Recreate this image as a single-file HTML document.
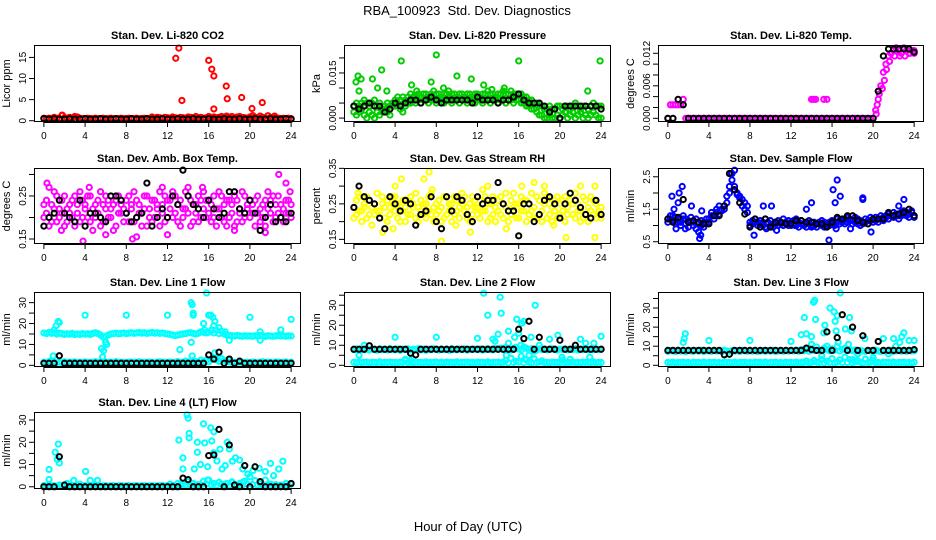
<!DOCTYPE html>
<html><head><meta charset="utf-8"><style>
html,body{margin:0;padding:0;background:#fff;}
svg{display:block;font-family:"Liberation Sans",Arial,sans-serif;}
</style></head><body>
<svg id="chart" width="936" height="540" viewBox="0 0 936 540" xmlns="http://www.w3.org/2000/svg">
<rect width="936" height="540" fill="#fff"/>
<text x="467" y="15" font-size="13" text-anchor="middle" xml:space="preserve">RBA_100923  Std. Dev. Diagnostics</text>
<text x="468" y="531" font-size="13" text-anchor="middle">Hour of Day (UTC)</text>
</svg>
<script>
const co2Main=[0.6,0.5,0.6,0.5,0.8,0.6,0.5,1.3,0.7,0.6,0.8,0.6,1.0,0.9,0.6,0.5,0.5,0.6,0.5,0.5,0.6,0.5,0.5,0.6,0.5,0.5,0.6,0.5,0.5,0.5,0.6,0.5,0.5,0.6,0.5,0.5,0.6,0.5,0.5,0.6,0.5,0.5,0.9,0.6,0.8,0.7,0.6,0.8,0.7,0.6,0.9,0.7,0.6,0.8,0.7,0.6,0.9,0.8,0.7,1.0,0.7,0.8,0.6,0.7,1.0,0.8,0.9,0.7,0.8,1.0,0.9,1.1,0.8,1.0,0.7,0.9,1.0,0.8,0.7,0.6,0.9,1.2,0.8,0.7,1.1,0.8,0.6,1.2,0.8,0.7,0.6,0.6,0.5,0.6,0.5,0.6,0.5];
const co2Out=[[13.1,17.2],[12.8,14.8],[13.4,4.8],[16.0,14.3],[16.3,12.2],[16.5,10.6],[16.5,2.8],[17.7,8.2],[17.8,5.2],[19.2,5.5],[20.2,2.9],[21.2,4.3],[1.8,1.3],[20.3,1.2],[22.4,1.1]];
const co2Blk=[0.5,0.4,0.5,0.4,0.4,0.5,0.4,0.4,0.5,0.4,0.4,0.5,0.4,0.4,0.5,0.4,0.4,0.5,0.4,0.4,0.5,0.4,0.4,0.5,0.4,0.4,0.5,0.4,0.4,0.5,0.4,0.4,0.5,0.4,0.4,0.5,0.4,0.4,0.5,0.4,0.4,0.5,0.4,0.4,0.5,0.4,0.4,0.5,0.4];

const presUp=[0.004,0.005,0.004,0.005,0.006,0.005,0.004,0.005,0.006,0.004,0.005,0.003,0.004,0.005,0.004,0.005,0.006,0.007,0.006,0.007,0.006,0.007,0.008,0.007,0.007,0.008,0.007,0.008,0.008,0.007,0.008,0.009,0.008,0.008,0.007,0.008,0.008,0.007,0.008,0.008,0.007,0.008,0.008,0.007,0.008,0.008,0.007,0.008,0.008,0.007,0.008,0.008,0.009,0.008,0.008,0.007,0.008,0.008,0.009,0.008,0.008,0.009,0.008,0.008,0.008,0.008,0.007,0.007,0.006,0.006,0.005,0.005,0.004,0.004,0.003,0.003,0.004,0.003,0.003,0.004,0.004,0.003,0.004,0.004,0.003,0.004,0.005,0.004,0.003,0.004,0.004,0.003,0.004,0.005,0.004,0.004,0.004];
const presLo=[0.002,0.001,0.002,0.003,0.001,0.000,0.002,0.001,0.000,0.002,0.001,0.002,0.003,0.002,0.001,0.004,0.004,0.005,0.003,0.002,0.004,0.005,0.005,0.006,0.005,0.006,0.005,0.006,0.006,0.005,0.006,0.006,0.005,0.006,0.006,0.005,0.006,0.006,0.005,0.006,0.006,0.005,0.006,0.006,0.005,0.006,0.006,0.005,0.006,0.006,0.005,0.006,0.006,0.005,0.006,0.006,0.005,0.006,0.006,0.005,0.006,0.006,0.005,0.006,0.006,0.005,0.005,0.004,0.004,0.003,0.003,0.002,0.001,0.001,0.000,0.000,0.001,0.000,0.000,0.001,0.000,0.001,0.002,0.000,0.001,0.002,0.000,0.001,0.002,0.000,0.001,0.000,0.001,0.002,0.001,0.000,0.000];
const presOut=[[0.2,0.012],[0.4,0.014],[0.7,0.013],[0.5,0.009],[1.8,0.013],[2.7,0.016],[2.3,0.010],[3.2,0.009],[4.6,0.019],[5.6,0.011],[6.1,0.009],[7.5,0.012],[8.0,0.021],[8.7,0.010],[9.2,0.009],[10.0,0.014],[11.4,0.013],[12.6,0.011],[13.4,0.0095],[14.6,0.010],[16.0,0.019],[23.9,0.019],[22.7,0.009]];
const presBlk=[0.004,0.003,0.004,0.005,0.004,0.004,0.002,0.003,0.005,0.004,0.005,0.006,0.006,0.005,0.006,0.007,0.006,0.005,0.006,0.006,0.006,0.006,0.006,0.005,0.007,0.006,0.006,0.006,0.005,0.006,0.006,0.007,0.008,0.006,0.005,0.005,0.005,0.004,0.002,0.003,0.000,0.004,0.004,0.004,0.004,0.004,0.004,0.004,0.003];

const tempMain=[0,0.0025,0.0025,0.0025,0.0025,0.0025,0.0035,0,0,0,0,0,0,0,0,0,0,0,0,0,0,0,0,0,0,0,0,0,0,0,0,0,0,0,0,0,0,0,0,0,0,0,0,0,0,0,0,0,0,0,0,0,0,0,0,0,0,0,0,0,0,0,0,0,0,0,0,0,0,0,0,0,0,0,0,0,0,0,0,0,0,0.0015,0.0035,0.006,0.0085,0.010,0.0115,0.012,0.0125,0.013,0.0125,0.012,0.013,0.0125,0.012,0.0125,0.0125];
const tempOut=[[14.0,0.0035],[14.2,0.0035],[14.4,0.0035],[15.2,0.0035],[15.5,0.0035],[20.3,0.0008],[20.4,0.0025],[20.6,0.0045],[20.9,0.0055],[21.1,0.0070],[21.3,0.0090],[21.6,0.0105],[22.1,0.0115],[22.6,0.0115],[23.1,0.0115],[23.6,0.0120],[24.0,0.0120]];
const tempBlk=[0,0,0.0035,0.0025,0,0,0,0,0,0,0,0,0,0,0,0,0,0,0,0,0,0,0,0,0,0,0,0,0,0,0,0,0,0,0,0,0,0,0,0,0,0.0050,0.0115,0.0128,0.0128,0.0128,0.0128,0.0128,0.0122];

const ambA=[0.23,0.21,0.27,0.19,0.22,0.25,0.20,0.24,0.18,0.22,0.23,0.20,0.25,0.21,0.19,0.24,0.22,0.20,0.25,0.17,0.23,0.21,0.26,0.19,0.22,0.24,0.20,0.23,0.18,0.25,0.21,0.22,0.24,0.19,0.22,0.26,0.20,0.23,0.21,0.25,0.18,0.22,0.24,0.20,0.23,0.26,0.21,0.19,0.24,0.22,0.20,0.25,0.23,0.18,0.22,0.26,0.21,0.24,0.19,0.23,0.25,0.20,0.22,0.24,0.21,0.19,0.25,0.22,0.26,0.20,0.23,0.18,0.24,0.21,0.25,0.19,0.22,0.26,0.20,0.23,0.24,0.21,0.18,0.25,0.22,0.20,0.24,0.26,0.21,0.19,0.23,0.25,0.20,0.22,0.24,0.21,0.23];
const ambB=[0.20,0.24,0.18,0.23,0.26,0.19,0.22,0.21,0.25,0.19,0.21,0.24,0.18,0.23,0.26,0.20,0.23,0.25,0.19,0.22,0.20,0.24,0.18,0.23,0.25,0.20,0.22,0.17,0.24,0.21,0.23,0.19,0.21,0.25,0.23,0.19,0.24,0.21,0.18,0.22,0.25,0.20,0.19,0.24,0.22,0.18,0.23,0.25,0.20,0.24,0.26,0.21,0.19,0.24,0.20,0.22,0.25,0.18,0.23,0.21,0.19,0.24,0.26,0.20,0.24,0.23,0.20,0.18,0.22,0.25,0.19,0.24,0.20,0.23,0.18,0.24,0.21,0.19,0.25,0.22,0.20,0.23,0.24,0.21,0.19,0.23,0.18,0.22,0.24,0.25,0.20,0.21,0.23,0.19,0.21,0.24,0.20];
const ambOut=[[0.3,0.28],[1.7,0.17],[3.8,0.145],[4.4,0.27],[6.0,0.16],[9.0,0.155],[11.5,0.27],[12.0,0.16],[14.0,0.27],[15.4,0.27],[18.5,0.17],[21.5,0.165],[22.8,0.30],[23.5,0.28],[23.9,0.26],[8.6,0.15]];
const ambBlk=[0.18,0.20,0.21,0.24,0.21,0.20,0.19,0.24,0.18,0.21,0.21,0.20,0.19,0.25,0.25,0.24,0.21,0.19,0.20,0.21,0.28,0.18,0.20,0.22,0.20,0.25,0.23,0.31,0.25,0.23,0.22,0.20,0.24,0.22,0.20,0.21,0.26,0.26,0.22,0.21,0.24,0.21,0.17,0.20,0.23,0.19,0.20,0.19,0.21];

const rhA=[0.24,0.22,0.27,0.23,0.25,0.21,0.26,0.24,0.22,0.28,0.23,0.25,0.21,0.26,0.24,0.27,0.23,0.25,0.20,0.26,0.24,0.22,0.27,0.25,0.21,0.24,0.26,0.22,0.25,0.23,0.28,0.24,0.22,0.26,0.24,0.21,0.27,0.23,0.25,0.22,0.26,0.24,0.28,0.23,0.21,0.25,0.27,0.24,0.22,0.26,0.29,0.23,0.25,0.21,0.27,0.24,0.26,0.22,0.25,0.28,0.23,0.26,0.24,0.21,0.25,0.27,0.23,0.26,0.22,0.28,0.24,0.21,0.26,0.23,0.25,0.27,0.22,0.24,0.26,0.21,0.25,0.23,0.27,0.24,0.26,0.22,0.28,0.25,0.23,0.21,0.26,0.24,0.27,0.22,0.25,0.23,0.24];
const rhB=[0.21,0.26,0.23,0.20,0.24,0.27,0.22,0.19,0.25,0.23,0.21,0.27,0.24,0.20,0.22,0.25,0.27,0.21,0.24,0.23,0.20,0.26,0.22,0.24,0.28,0.20,0.23,0.25,0.21,0.27,0.22,0.20,0.25,0.23,0.20,0.27,0.22,0.25,0.20,0.27,0.23,0.21,0.25,0.27,0.24,0.20,0.22,0.26,0.24,0.21,0.23,0.27,0.20,0.25,0.22,0.20,0.23,0.27,0.21,0.24,0.20,0.22,0.28,0.25,0.21,0.23,0.26,0.20,0.25,0.23,0.21,0.27,0.22,0.20,0.28,0.21,0.25,0.20,0.23,0.27,0.22,0.26,0.20,0.22,0.28,0.25,0.21,0.23,0.20,0.27,0.22,0.20,0.23,0.26,0.21,0.22,0.21];
const rhOut=[[0.4,0.28],[2.8,0.17],[3.8,0.18],[4.6,0.32],[6.8,0.32],[7.3,0.34],[7.6,0.29],[8.5,0.145],[11.3,0.17],[13.0,0.30],[14.8,0.18],[16.3,0.30],[17.5,0.31],[18.5,0.30],[19.4,0.19],[20.6,0.155],[22.0,0.30],[23.4,0.30],[23.4,0.155],[9.9,0.19],[4.0,0.30]];
const rhBlk=[0.24,0.30,0.27,0.26,0.25,0.21,0.18,0.27,0.25,0.23,0.26,0.25,0.19,0.22,0.23,0.27,0.20,0.18,0.27,0.23,0.27,0.26,0.22,0.20,0.27,0.25,0.26,0.26,0.31,0.25,0.23,0.23,0.16,0.25,0.25,0.20,0.22,0.26,0.27,0.25,0.21,0.25,0.28,0.26,0.24,0.22,0.21,0.26,0.22];

const flowA=[1.2,1.3,1.15,1.25,1.2,1.1,1.3,1.2,1.15,1.25,1.1,1.2,1.05,1.15,1.1,1.2,1.2,1.4,1.3,1.5,1.6,1.5,1.6,1.9,2.2,2.4,2.1,2.0,1.9,1.8,1.7,1.6,1.1,1.15,1.2,1.1,1.15,1.1,1.2,1.1,1.15,1.05,1.1,1.15,1.1,1.2,1.1,1.15,1.1,1.15,1.2,1.1,1.15,1.05,1.1,1.15,1.0,1.1,1.05,1.1,1.15,1.1,1.0,1.1,1.15,1.1,1.2,1.15,1.1,1.2,1.25,1.2,1.15,1.25,1.2,1.15,1.1,1.2,1.15,1.25,1.2,1.25,1.2,1.3,1.25,1.3,1.35,1.3,1.4,1.35,1.3,1.4,1.45,1.4,1.35,1.45,1.3];
const flowB=[1.1,1.2,1.3,1.05,1.1,1.0,1.2,1.05,0.95,1.1,1.0,0.9,1.05,1.0,0.95,1.05,1.1,1.3,1.2,1.4,1.35,1.45,1.5,1.7,2.0,2.6,2.2,1.95,1.85,1.6,1.5,1.4,1.0,1.05,1.1,1.0,1.05,1.0,0.95,1.05,1.0,0.95,1.05,1.0,1.05,1.0,1.1,1.0,1.0,1.05,1.0,0.95,1.05,1.0,0.95,1.05,0.95,1.0,0.95,1.05,1.0,0.95,1.05,1.0,1.05,1.0,1.1,1.05,1.15,1.05,1.1,1.15,1.05,1.1,1.05,1.0,1.05,1.1,1.05,1.15,1.1,1.15,1.1,1.2,1.15,1.25,1.2,1.3,1.25,1.35,1.2,1.3,1.35,1.3,1.25,1.4,1.25];
const flowOut=[[0.4,1.9],[1.1,2.0],[1.4,2.2],[0.6,1.5],[1.0,1.7],[2.3,1.6],[3.2,0.7],[3.1,0.6],[3.0,0.8],[3.3,1.45],[0.8,0.9],[1.7,0.9],[6.2,2.6],[6.5,2.7],[8.4,0.7],[9.3,1.6],[10.1,1.6],[9.6,0.9],[10.6,0.85],[14.0,1.7],[13.5,1.5],[15.7,0.55],[16.1,2.1],[16.3,1.7],[16.5,2.4],[16.8,1.9],[19.0,1.85],[19.0,1.8],[16.4,0.9],[19.8,0.8],[23.0,1.8],[22.5,1.6],[12.4,1.0],[17.8,0.9]];
const flowBlk=[1.2,1.1,1.25,1.8,1.1,1.15,1.1,1.05,1.05,1.3,1.3,1.6,2.6,2.1,1.7,1.35,0.95,1.2,0.95,1.2,0.95,1.1,1.1,1.05,1.05,1.15,1.15,1.1,1.1,1.05,1.05,0.95,1.1,1.25,1.2,1.3,1.3,1.15,1.1,1.05,1.2,1.2,1.2,1.4,1.3,1.35,1.4,1.5,1.3];

const l1Up=[15.5,15.2,15.8,15.3,15.6,15.0,15.4,15.2,14.8,15.1,14.9,15.3,14.7,15.0,14.8,15.2,14.9,15.1,14.8,15.3,15.6,15.2,14.5,13.5,13.8,14.5,15.0,15.2,15.4,15.1,15.3,15.5,15.2,15.4,15.6,15.3,15.5,15.7,15.4,15.6,15.3,15.5,15.8,15.4,15.6,15.3,15.5,15.2,15.0,14.8,14.5,14.2,14.5,14.8,15.0,15.2,15.5,15.6,15.3,15.0,15.4,16.0,15.8,15.5,15.8,16.5,15.5,16.8,15.2,16.2,15.0,14.5,14.3,14.2,14.0,14.3,14.1,13.9,14.2,14.0,14.1,13.9,14.2,14.0,14.3,14.1,13.8,14.2,14.0,13.9,14.1,14.3,14.0,14.2,13.9,14.1,14.0];
const l1Lo=[1.5,1.2,1.8,1.4,1.6,1.2,1.5,1.3,1.7,1.2,1.5,1.4,1.6,1.2,1.5,1.3,1.6,1.4,1.2,1.5,1.7,1.3,1.5,1.2,1.6,1.4,1.5,1.2,1.7,1.3,1.5,1.4,1.2,1.6,1.5,1.3,1.4,1.7,1.2,1.5,1.3,1.6,1.4,1.2,1.5,1.7,1.3,1.5,1.4,1.6,1.2,1.5,1.8,1.3,1.5,2.0,1.6,1.4,2.2,1.8,1.5,2.5,1.9,2.4,1.7,2.8,3.5,2.6,1.9,3.2,2.4,1.8,1.6,1.4,1.5,1.3,1.6,1.4,1.2,1.5,1.3,1.6,1.4,1.2,1.5,1.7,1.3,1.5,1.4,1.2,1.6,1.5,1.3,1.4,1.6,1.2,1.5];
const l1Out=[[0.6,2],[0.9,4.5],[1.0,17],[1.2,19],[1.5,20.5],[1.4,21],[4.0,24],[5.7,4],[5.6,8],[5.8,7],[6.0,11],[6.1,10],[8.0,24],[12.0,24],[13.2,7.5],[14.3,30],[14.4,29],[14.5,25],[14.5,24],[14.3,11],[14.4,4.5],[15.5,20],[15.6,17],[15.8,35],[16.0,24],[16.2,24],[16.4,23],[16.5,19],[16.6,21],[16.3,17],[16.6,6],[17.0,18],[17.6,16],[18.0,12],[20.0,23],[21.0,12],[21.0,16],[23.0,17],[24.0,22],[16.8,3.5],[18.0,3]];
const l1Blk=[1.0,1.0,1.0,4.6,1.0,1.0,1.0,1.0,1.0,1.0,1.0,1.0,1.0,1.0,1.0,1.0,1.0,1.0,1.0,1.0,1.0,1.0,1.0,1.0,1.0,1.0,1.0,1.0,1.0,1.0,1.0,1.0,5.0,3.0,6.3,1.0,3.0,1.0,2.0,1.0,1.0,1.0,1.0,1.0,1.0,1.0,1.0,1.0,1.0];

const l2Up=[7.8,8.2,7.5,8.0,7.7,8.3,7.6,8.1,7.9,7.5,8.2,7.8,8.0,7.6,8.3,7.9,7.7,8.1,7.5,8.0,7.8,8.2,7.6,8.0,7.9,8.3,7.7,8.1,7.5,8.0,7.8,8.2,7.9,7.6,8.1,7.8,8.0,7.5,8.3,7.9,7.7,8.1,7.8,8.2,7.6,8.0,7.9,8.1,7.8,8.2,7.6,8.0,8.3,7.9,7.7,8.4,8.0,8.6,7.8,8.9,8.2,7.6,8.4,9.0,8.1,7.7,9.2,8.5,7.8,8.3,8.0,7.6,8.2,7.9,8.1,7.7,8.0,8.3,7.8,7.6,8.1,7.9,8.2,7.7,8.0,7.8,8.3,7.6,8.0,7.9,8.2,7.7,8.1,7.8,8.0,7.9,8.1];
const l2Lo=[1.5,1.2,1.7,1.3,1.5,1.6,1.2,1.4,1.5,1.3,1.7,1.2,1.5,1.4,1.6,1.3,1.5,1.2,1.6,1.4,2.5,1.3,1.5,1.2,1.6,1.4,1.5,1.3,1.7,1.2,1.5,1.4,1.6,1.3,1.5,1.2,1.6,1.4,1.5,1.3,1.7,1.2,1.5,1.4,1.6,1.3,1.5,1.2,1.6,1.4,1.5,1.3,1.7,1.2,1.5,1.4,1.6,1.3,1.5,2.5,1.2,3.5,1.4,2.0,1.6,4.5,1.3,2.8,1.5,1.2,3.2,1.4,1.6,2.2,1.3,1.5,1.2,1.6,1.4,1.5,1.3,2.6,1.2,1.5,1.4,1.6,1.3,1.5,1.2,1.6,1.4,1.5,1.3,1.7,1.2,1.5,1.4];
const l2Out=[[0.5,5],[1.0,10],[4.0,14],[5.0,3],[5.5,2.5],[8.0,14],[12.0,13.5],[12.6,36],[13.0,25],[13.5,13],[14.0,15.5],[14.2,34],[14.3,26],[13.7,12],[15.0,17],[15.0,11],[14.8,5],[15.6,14],[15.8,23],[16.0,16],[16.3,21],[16.5,22],[16.2,10],[16.6,3],[17.2,14],[17.6,30],[17.0,5],[18.0,10],[18.6,8],[19.8,15],[20.2,4],[21.0,3],[22.0,13],[22.5,11],[22.9,4],[23.3,11],[24.0,14.5],[19.0,13],[15.5,8],[17.5,7]];
const l2Blk=[8,8,8,9.8,8,8,8,8,8,8,8,6.0,5.2,8,8,8,8,8,8,8,8,8,8,8,8,8,8,8,8,8,8,8,18,13.3,22,8,14,8,8,8,12.5,8,8,10,8,8,8,8,8];

const l3Up=[7.3,7.8,7.5,7.2,7.9,7.4,7.6,7.1,7.8,7.5,7.3,7.7,7.4,7.9,7.2,7.6,7.5,7.3,7.8,7.4,7.6,7.2,7.9,7.5,7.3,7.7,7.4,7.6,7.2,7.8,7.5,7.3,7.6,7.4,7.8,7.2,7.5,7.7,7.3,7.6,7.4,7.8,7.2,7.5,7.7,7.3,7.6,7.4,7.8,7.5,7.9,7.3,8.2,7.6,8.5,7.4,8.8,7.7,9.5,8.0,7.5,9.0,8.3,7.6,8.6,7.9,9.8,7.5,8.4,9.0,7.7,8.2,7.6,8.0,7.4,7.8,7.5,7.3,7.7,7.6,7.4,7.9,7.5,7.2,7.7,7.4,7.6,7.8,7.3,7.5,7.7,7.4,7.6,7.3,7.8,7.5,7.6];
const l3Lo=[1.5,1.3,1.7,1.2,1.5,1.4,1.6,1.3,1.5,1.2,1.6,1.4,1.5,1.3,1.7,1.2,1.5,1.4,1.6,1.3,1.5,1.2,1.6,1.4,1.5,1.3,1.7,1.2,1.5,1.4,1.6,1.3,1.5,1.2,1.6,1.4,1.5,1.3,1.7,1.2,1.5,1.4,1.6,1.3,1.5,1.2,1.6,1.4,1.5,1.3,1.7,1.2,1.5,1.4,2.2,1.3,1.5,2.5,1.6,1.4,3.0,1.3,2.2,1.5,3.5,1.2,1.6,2.8,1.4,4.2,1.5,3.0,1.3,1.7,2.4,1.5,1.2,3.2,1.4,1.6,2.6,1.3,1.5,1.2,1.6,1.4,1.5,1.3,1.7,1.2,1.5,1.4,1.6,1.3,1.5,1.2,1.6];
const l3Out=[[1.5,12],[1.6,14],[1.7,16.5],[4.0,13],[8.0,13],[12.0,12.5],[13.0,16],[13.3,25],[13.5,16.5],[14.0,15],[14.2,33],[14.3,34],[14.4,24],[14.0,11],[15.2,17],[15.3,21],[15.5,10],[15.8,30],[16.2,28],[16.3,23],[16.5,26],[16.8,38],[16.4,18],[16.6,12],[17.3,19],[17.7,25],[17.9,18],[17.6,11],[18.5,6],[19.2,14],[20.0,4],[21.0,14],[21.5,6],[22.0,14],[22.2,10],[22.6,12],[22.8,15],[23.0,17],[23.5,13],[24.0,13],[18.0,3],[15.0,5]];
const l3Blk=[7.8,7.8,7.8,7.8,7.8,7.8,7.8,7.8,7.8,7.8,7.8,5.5,5.8,7.8,7.8,7.8,7.8,7.8,7.8,7.8,7.8,7.8,7.8,7.8,7.8,7.8,7.8,9.0,8.2,7.8,7.8,17.5,7.8,14.5,26.5,7.8,20,7.8,15.5,7.8,7.8,12.5,7.8,7.8,7.8,7.8,7.8,7.8,8.2];

const l4Main=[0.5,0.3,0.6,0.4,0.5,0.3,0.8,0.4,0.5,1.5,0.6,0.4,0.5,0.3,1.2,0.4,0.5,0.3,0.6,0.4,1.0,0.5,0.3,0.4,0.5,0.3,0.4,0.5,0.3,0.4,0.5,0.3,0.4,0.5,0.3,0.4,0.5,0.3,0.4,0.5,0.3,0.4,0.5,0.3,0.4,0.5,0.6,0.4,0.5,1.2,0.6,0.4,1.5,0.8,1.2,0.6,2.2,0.8,1.5,0.6,1.0,0.8,2.5,1.2,3.0,0.8,1.5,0.6,2.0,1.2,0.8,1.5,0.6,2.2,1.0,0.8,1.5,0.6,2.5,1.2,4.5,1.0,2.8,0.8,1.5,0.6,3.0,0.8,1.2,0.6,1.0,0.5,0.8,0.6,1.5,0.5,1.2];
const l4Out=[[0.5,3.3],[0.5,7.8],[1.1,15.5],[1.4,19.2],[1.3,12.3],[1.5,10.7],[4.05,6.9],[2.9,2.9],[4.5,2.9],[5.2,2.9],[13.9,32.3],[14.0,30.8],[14.1,24],[14.1,22],[13.1,21],[13.5,13],[13.5,8],[15.5,28.3],[14.9,20],[14.9,15.5],[15.6,19.7],[16.2,26.5],[16.5,24.7],[16.3,20.6],[16.5,15.3],[16.8,11.6],[17.1,16.9],[17.3,8],[17.8,20],[18.0,17],[18.3,11.5],[18.6,13],[19.0,12],[19.3,8],[19.8,5.7],[20.3,7.3],[20.9,8.3],[21.5,6.8],[22.0,10.5],[22.3,5],[22.8,8],[23.2,11.5],[14.6,8],[15.2,10],[15.9,9],[15.9,3],[17.6,9.5],[18.3,2],[19.3,2]];
const l4Blk=[0,0,0,13.5,0.8,0,0,0,0,0,0,0,0,0,0,0,0,0,0,0,0,0,0,0,0,0,0,3.9,3.2,0,0,0,14,14.3,25.8,0,18.8,0.8,0,9.5,0,9,2.3,0,0,0,0,0,1.5];

const xTicks=[0,4,8,12,16,20,24];

const panels=[
 {name:'co2',title:'Stan. Dev. Li-820 CO2',ylab:'Licor ppm',col:'#ff0000',box:[34,301,45,122],ylim:[-0.3,17.94],ticks:[0,5,10,15],labels:['0','5','10','15'],main:[co2Main],out:co2Out,blk:co2Blk},
 {name:'pressure',title:'Stan. Dev. Li-820 Pressure',ylab:'kPa',col:'#00cc00',box:[344,611,45,122],ylim:[-0.0013,0.0243],ticks:[0,0.005,0.01,0.015,0.02],labels:['0.000','','','0.015',''],main:[presUp,presLo],out:presOut,blk:presBlk},
 {name:'li820-temp',title:'Stan. Dev. Li-820 Temp.',ylab:'degrees C',col:'#ff00ff',box:[658,924,45,122],ylim:[-0.00068,0.01353],ticks:[0,0.002,0.004,0.006,0.008,0.01,0.012],labels:['0.000','','','0.006','','','0.012'],main:[tempMain],out:tempOut,blk:tempBlk},
 {name:'amb-box-temp',title:'Stan. Dev. Amb. Box Temp.',ylab:'degrees C',col:'#ff00ff',box:[34,301,168,244],ylim:[0.1384,0.315],ticks:[0.15,0.2,0.25,0.3],labels:['0.15','','0.25',''],main:[ambA,ambB],out:ambOut,blk:ambBlk},
 {name:'gas-stream-rh',title:'Stan. Dev. Gas Stream RH',ylab:'percent',col:'#ffff00',box:[344,611,168,244],ylim:[0.137,0.351],ticks:[0.15,0.2,0.25,0.3,0.35],labels:['0.15','','0.25','','0.35'],main:[rhA,rhB],out:rhOut,blk:rhBlk},
 {name:'sample-flow',title:'Stan. Dev. Sample Flow',ylab:'ml/min',col:'#0000ff',box:[658,924,168,244],ylim:[0.43,2.77],ticks:[0.5,1,1.5,2,2.5],labels:['0.5','','1.5','','2.5'],main:[flowA,flowB],out:flowOut,blk:flowBlk},
 {name:'line1-flow',title:'Stan. Dev. Line 1 Flow',ylab:'ml/min',col:'#00ffff',box:[34,301,292,367],ylim:[-0.8,35.1],ticks:[0,5,10,15,20,25,30],labels:['0','','10','','20','','30'],main:[l1Up,l1Lo],out:l1Out,blk:l1Blk},
 {name:'line2-flow',title:'Stan. Dev. Line 2 Flow',ylab:'ml/min',col:'#00ffff',box:[344,611,292,367],ylim:[-0.85,36.6],ticks:[0,5,10,15,20,25,30,35],labels:['0','','10','','20','','30',''],main:[l2Up,l2Lo],out:l2Out,blk:l2Blk},
 {name:'line3-flow',title:'Stan. Dev. Line 3 Flow',ylab:'ml/min',col:'#00ffff',box:[658,924,292,367],ylim:[-0.9,38.4],ticks:[0,5,10,15,20,25,30,35],labels:['0','','10','','20','','30',''],main:[l3Up,l3Lo],out:l3Out,blk:l3Blk},
 {name:'line4-flow',title:'Stan. Dev. Line 4 (LT) Flow',ylab:'ml/min',col:'#00ffff',box:[34,301,412,489],ylim:[-1.0,33.6],ticks:[0,5,10,15,20,25,30],labels:['0','','10','','20','','30'],main:[l4Main],out:l4Out,blk:l4Blk}
];

const NS='http://www.w3.org/2000/svg';
const svg=document.getElementById('chart');
function mk(tag,attrs,parent){const e=document.createElementNS(NS,tag);for(const k in attrs)e.setAttribute(k,attrs[k]);parent.appendChild(e);return e;}

panels.forEach(p=>{
  const [L,R,T,B]=p.box;
  const xMin=-0.96,xMax=24.96;
  const xs=h=>L+(h-xMin)/(xMax-xMin)*(R-L);
  const ys=v=>B-(v-p.ylim[0])/(p.ylim[1]-p.ylim[0])*(B-T);
  const g=mk('g',{},svg);
  
  
  const t=mk('text',{x:(L+R)/2,y:T-6,'font-size':11,'font-weight':'bold','text-anchor':'middle'},g);
  
  
  t.textContent=p.title;
  const yl=mk('text',{x:0,y:0,'font-size':11,'text-anchor':'middle',transform:`translate(${L-24},${(T+B)/2}) rotate(-90)`},g);
  
  
  yl.textContent=p.ylab;
  const pts=mk('g',{fill:'none','stroke-width':2},g);
  
  
  const clip=v=>Math.max(T+1,Math.min(B-1,v));
  p.main.forEach(arr=>{arr.forEach((v,i)=>{
    const c=mk('circle',{cx:xs(i*0.25),cy:clip(ys(v)),r:2.6,stroke:p.col},pts);
    
    
  });});
  p.out.forEach(d=>{
    const c=mk('circle',{cx:xs(d[0]),cy:clip(ys(d[1])),r:2.6,stroke:p.col},pts);
    
    
  });
  p.blk.forEach((v,i)=>{
    const c=mk('circle',{cx:xs(i*0.5),cy:clip(ys(v)),r:2.6,stroke:'#000'},pts);
    
    
  });
  const box=mk('rect',{x:L+0.5,y:T+0.5,width:R-L-1,height:B-T-1,fill:'none',stroke:'#000','stroke-width':1},g);
  
  
  const xa=mk('g',{stroke:'#000','stroke-width':1},g);
  
  
  mk('line',{x1:xs(xTicks[0]),x2:xs(xTicks[xTicks.length-1]),y1:B+0.5,y2:B+0.5},xa);
  xTicks.forEach(h=>{
    mk('line',{x1:xs(h),x2:xs(h),y1:B,y2:B+5},xa);
    const tl=mk('text',{x:xs(h),y:B+17,'font-size':10,'text-anchor':'middle',stroke:'none',fill:'#000'},xa);
    
    
    tl.textContent=h;
  });
  const ya=mk('g',{stroke:'#000','stroke-width':1},g);
  
  
  mk('line',{x1:L+0.5,x2:L+0.5,y1:ys(p.ticks[0]),y2:ys(p.ticks[p.ticks.length-1])},ya);
  p.ticks.forEach((v,i)=>{
    mk('line',{x1:L-5,x2:L,y1:ys(v),y2:ys(v)},ya);
    if(p.labels[i]){
      const tl=mk('text',{x:0,y:0,'font-size':10,'text-anchor':'middle',stroke:'none',fill:'#000',transform:`translate(${L-8},${ys(v)}) rotate(-90)`},ya);
      
      
      tl.textContent=p.labels[i];
    }
  });
});
</script>
</body></html>
